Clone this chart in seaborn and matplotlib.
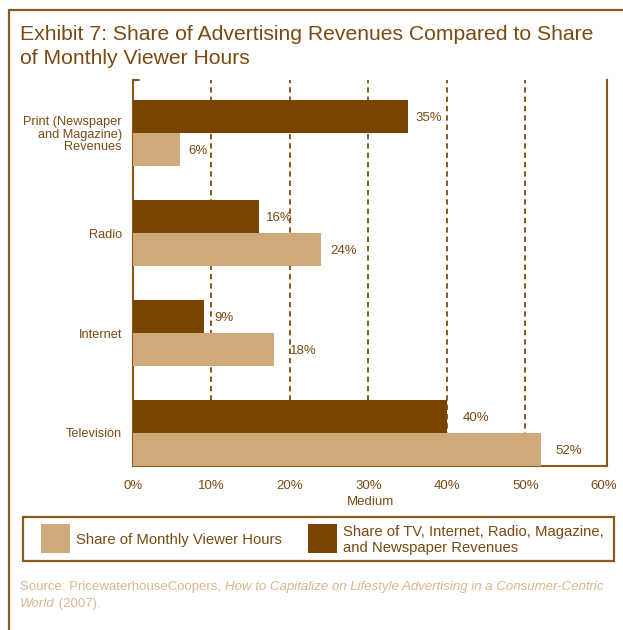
import matplotlib
matplotlib.use("Agg")
import matplotlib.pyplot as plt
from matplotlib.patches import Rectangle
from matplotlib.lines import Line2D
import seaborn as sns
import pandas as pd

# Data
media = ["Print (Newspaper\nand Magazine)\nRevenues", "Radio", "Internet", "Television"]
revenue_share = [35, 16, 9, 40]
viewer_hours_share = [6, 24, 18, 52]
series_revenue = "Share of TV, Internet, Radio, Magazine,\nand Newspaper Revenues"
series_hours = "Share of Monthly Viewer Hours"
x_ticks = [0, 10, 20, 30, 40, 50, 60]
x_tick_labels = ["0%", "10%", "20%", "30%", "40%", "50%", "60%"]

DARK = "#784400"
LIGHT = "#cfa97a"
TEXT = "#7a4a12"
FRAME = "#8a5a1c"
SOURCE = "#d9b68e"

df = pd.DataFrame({
    "Medium": media * 2,
    "Series": [series_revenue] * len(media) + [series_hours] * len(media),
    "Share": revenue_share + viewer_hours_share,
})

sns.set_theme(style="white")
plt.rcParams["font.family"] = ["Liberation Sans", "DejaVu Sans"]

fig = plt.figure(figsize=(6.23, 6.30), dpi=100)
ax = fig.add_axes([133 / 623, 1 - 466 / 630, (607 - 133) / 623, (466 - 80) / 630])

sns.barplot(data=df, x="Share", y="Medium", hue="Series",
            hue_order=[series_revenue, series_hours],
            palette=[DARK, LIGHT], orient="h", width=0.66,
            saturation=1, legend=False, ax=ax, zorder=3, linewidth=0)

ax.set_xlim(0, 60.4)
ax.set_ylim(3.33, -0.53)

# dashed reference lines
for v in x_ticks[1:-1]:
    ax.axvline(v, color="#8a5a1c", lw=1.4, ls=(0, (2.8, 2.0)), zorder=1)

ax.set_xticks(x_ticks)
ax.set_xticklabels(x_tick_labels)
ax.tick_params(axis="both", length=0, labelsize=9.5, labelcolor=TEXT)
ax.tick_params(axis="x", pad=10)
ax.tick_params(axis="y", pad=8, labelsize=9.2)
for lbl in ax.get_yticklabels():
    lbl.set_linespacing(1.05)
ax.set_xlabel("Medium", fontsize=9.5, color=TEXT, labelpad=3)
ax.set_ylabel("")

for s in ["left", "right", "bottom"]:
    ax.spines[s].set_color(FRAME)
    ax.spines[s].set_linewidth(1.5)
ax.spines["top"].set_visible(False)
# small cap at the top of the left spine
ax.plot([0, 0.8], [-0.53, -0.53], color=FRAME, lw=1.5, clip_on=False, zorder=4)

# value labels
pads = {0: [5.8, 5.0, 8.0, 11.5], 1: [5.8, 6.5, 11.5, 10.0]}
for i, cont in enumerate(ax.containers):
    vals = revenue_share if i == 0 else viewer_hours_share
    for bar, v, p in zip(cont, vals, pads[i]):
        ax.annotate(f"{v}%", xy=(bar.get_width(), bar.get_y() + bar.get_height() / 2),
                    xytext=(p, -1), textcoords="offset points",
                    va="center", ha="left", fontsize=9.5, color=TEXT)

# outer frame (top and left edges)
fig.add_artist(Line2D([9 / 623, 1.0], [1 - 10 / 630, 1 - 10 / 630],
                      transform=fig.transFigure, color=FRAME, lw=1.6))
fig.add_artist(Line2D([9 / 623, 9 / 623], [0, 1 - 10 / 630],
                      transform=fig.transFigure, color=FRAME, lw=1.6))

# title
fig.text(20 / 623, 1 - 35 / 630, "Exhibit 7: Share of Advertising Revenues Compared to Share",
         fontsize=15.2, color=TEXT, va="center", ha="left")
fig.text(20 / 623, 1 - 58 / 630, "of Monthly Viewer Hours",
         fontsize=15.2, color=TEXT, va="center", ha="left")

# legend
fig.add_artist(Rectangle((23 / 623, 1 - 561 / 630), 591 / 623, 44 / 630,
                         transform=fig.transFigure, fill=False, ec=FRAME, lw=1.6))
fig.add_artist(Rectangle((41 / 623, 1 - 553 / 630), 29 / 623, 29 / 630,
                         transform=fig.transFigure, fc=LIGHT, ec="none"))
fig.text(76 / 623, 1 - 540 / 630, series_hours, fontsize=10.7, color=TEXT,
         va="center", ha="left")
fig.add_artist(Rectangle((308 / 623, 1 - 553 / 630), 29 / 623, 29 / 630,
                         transform=fig.transFigure, fc=DARK, ec="none"))
fig.text(343 / 623, 1 - 540 / 630, series_revenue, fontsize=10.7, color=TEXT,
         va="center", ha="left", linespacing=1.12)

# source note with italic title
fig.canvas.draw()
renderer = fig.canvas.get_renderer()


def run(pieces, x, y):
    for txt, style in pieces:
        t = fig.text(x, y, txt, fontsize=9.5, color=SOURCE, style=style,
                     va="baseline", ha="left")
        bb = t.get_window_extent(renderer)
        x = bb.x1 / fig.bbox.width


run([("Source: PricewaterhouseCoopers, ", "normal"),
     ("How to Capitalize on Lifestyle Advertising in a Consumer-Centric", "italic")],
    20 / 623, 1 - 590 / 630)
run([("World", "italic"), (" (2007).", "normal")], 20 / 623, 1 - 607 / 630)

fig.savefig("out.png", dpi=100)
